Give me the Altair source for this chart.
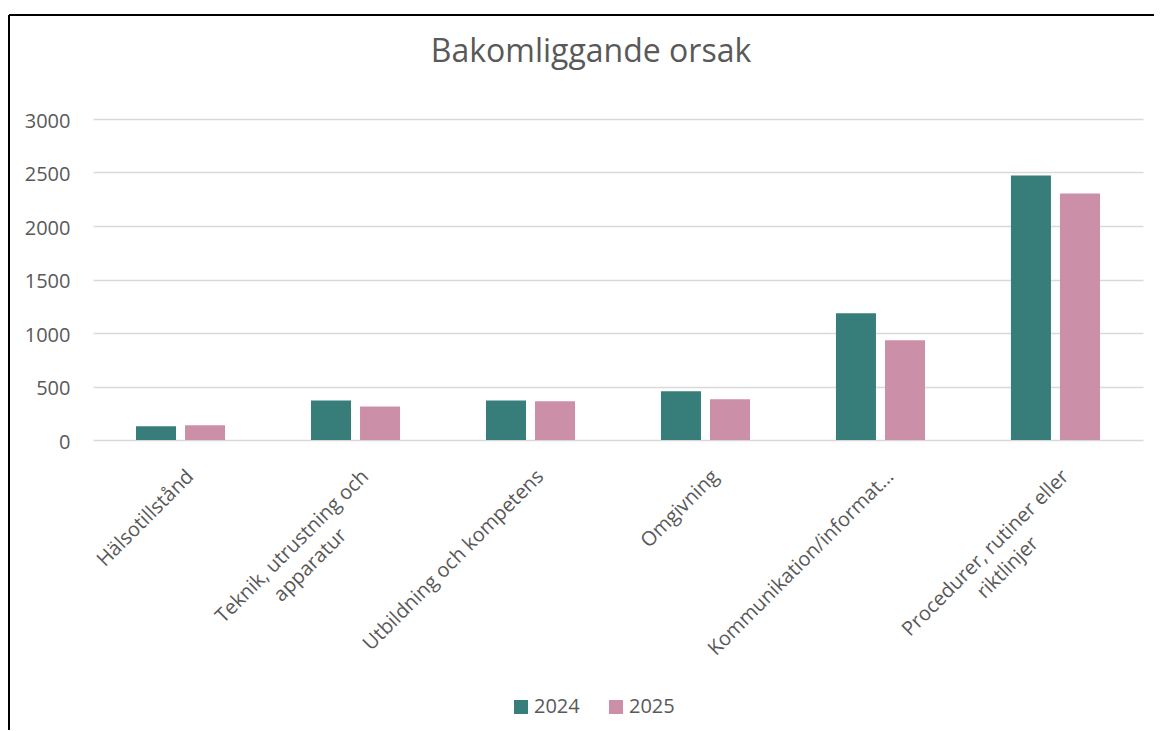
import altair as alt
import pandas as pd

categories = [
    "Hälsotillstånd",
    "Teknik, utrustning och apparatur",
    "Utbildning och kompetens",
    "Omgivning",
    "Kommunikation/information",
    "Procedurer, rutiner eller riktlinjer",
]
years = ["2024", "2025"]
values_2024 = [128, 370, 370, 455, 1184, 2472]
values_2025 = [137, 314, 362, 380, 932, 2304]
colors = ["#377E7A", "#CC8FA8"]
y_ticks = [0, 500, 1000, 1500, 2000, 2500, 3000]
title_text = "Bakomliggande orsak"

rows = []
for c, a, b in zip(categories, values_2024, values_2025):
    rows.append({"Orsak": c, "År": years[0], "Antal": a})
    rows.append({"Orsak": c, "År": years[1], "Antal": b})
df = pd.DataFrame(rows)

FONT = "Open Sans"
GRAY = "#595959"
SP = "\u2007"   # figure space
WJ = "\u2060"   # word joiner keeps the trailing spaces

label_expr = (
    "datum.value == 'Teknik, utrustning och apparatur' ? ['Teknik, utrustning och', 'apparatur" + SP * 5 + WJ + "'] : "
    "datum.value == 'Procedurer, rutiner eller riktlinjer' ? ['Procedurer, rutiner eller', 'riktlinjer" + SP * 6 + WJ + "'] : "
    "datum.value == 'Kommunikation/information' ? 'Kommunikation/informat\u2026' : datum.label"
)

bars = alt.Chart(df).mark_bar().encode(
    x=alt.X(
        "Orsak:N",
        sort=categories,
        title=None,
        scale=alt.Scale(paddingInner=0.491, paddingOuter=0.2457),
        axis=alt.Axis(
            labelAngle=-45,
            labelAlign="right",
            labelBaseline="middle",
            labelPadding=33,
            labelOffset=10,
            labelFont=FONT,
            labelFontSize=20,
            labelColor=GRAY,
            labelLimit=500,
            labelExpr=label_expr,
            labelLineHeight=26,
            ticks=False,
            domain=False,
            grid=False,
        ),
    ),
    xOffset=alt.XOffset("År:N", sort=years, scale=alt.Scale(paddingInner=0.184, paddingOuter=0)),
    y=alt.Y(
        "Antal:Q",
        title=None,
        scale=alt.Scale(domain=[0, 3000], nice=False),
        axis=alt.Axis(
            values=y_ticks,
            format="d",
            labelFont=FONT,
            labelFontSize=20,
            labelColor=GRAY,
            labelPadding=23,
            labelOffset=2,
            ticks=False,
            domain=False,
            grid=True,
            gridColor="#D9D9D9",
            gridWidth=1.5,
        ),
    ),
    color=alt.Color(
        "År:N",
        scale=alt.Scale(domain=years, range=colors),
        legend=alt.Legend(
            title=None,
            orient="none",
            direction="horizontal",
            legendX=418,
            legendY=578,
            symbolType="square",
            symbolSize=196,
            symbolStrokeWidth=0,
            labelFont=FONT,
            labelFontSize=20,
            labelColor=GRAY,
            labelOffset=3,
            columnPadding=26,
            padding=0,
        ),
    ),
)

one_row = alt.Data(values=[{"t": title_text}])
title_mark = alt.Chart(one_row).mark_text(
    font=FONT, fontSize=32, color=GRAY, align="center", baseline="alphabetic"
).encode(text="t:N", x=alt.value(498), y=alt.value(-57))

top_line = alt.Chart(one_row).mark_rule(color="black", strokeWidth=2).encode(
    x=alt.value(-84), x2=alt.value(1061), y=alt.value(-104)
)
left_line = alt.Chart(one_row).mark_rule(color="black", strokeWidth=2).encode(
    x=alt.value(-84), y=alt.value(-104), y2=alt.value(612)
)

chart = alt.layer(bars, title_mark, top_line, left_line).properties(
    width=1050,
    height=321,
    autosize=alt.AutoSizeParams(type="none"),
    padding={"left": 85, "top": 111, "right": 11, "bottom": 290},
    background="white",
).configure_view(stroke=None)

chart.save("out.html", embed_options={"renderer": "svg", "actions": False})
